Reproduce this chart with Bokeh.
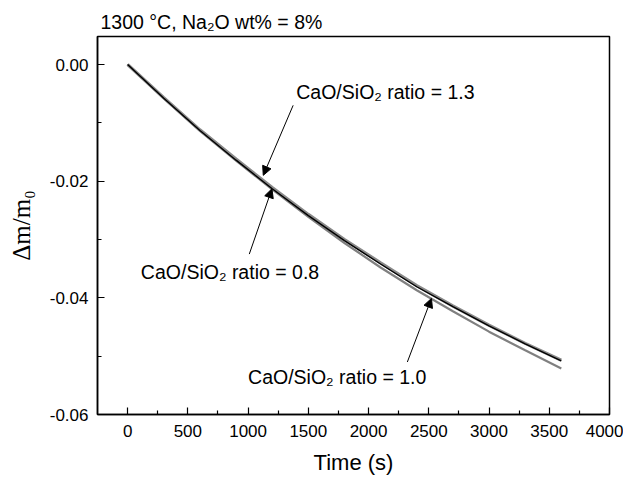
from bokeh.plotting import figure
from bokeh.models import Arrow, NormalHead, Label, PrintfTickFormatter, FixedTicker, Range1d
from bokeh.embed import file_html
from bokeh.resources import INLINE

# data
time_s = [0, 300, 600, 900, 1200, 1500, 1800, 2100, 2400, 2700, 3000, 3300, 3600]
ratio_13 = [0, -0.0057, -0.0112, -0.0162, -0.0211, -0.0257, -0.0300, -0.0340, -0.0379, -0.0414, -0.0447, -0.0478, -0.0507]
ratio_08 = [0, -0.0058, -0.0113, -0.0164, -0.0213, -0.0259, -0.0302, -0.0342, -0.0381, -0.0415, -0.0448, -0.0479, -0.0508]
ratio_10 = [0, -0.0058, -0.0114, -0.0165, -0.0214, -0.0261, -0.0306, -0.0348, -0.0387, -0.0423, -0.0458, -0.0490, -0.0521]

x_ticks = [0, 500, 1000, 1500, 2000, 2500, 3000, 3500, 4000]
y_ticks = [-0.06, -0.04, -0.02, 0.0]

labels = ["CaO/SiO\u2082 ratio = 1.3", "CaO/SiO\u2082 ratio = 0.8", "CaO/SiO\u2082 ratio = 1.0"]
label_pos = [(1400, -0.0047), (110, -0.0355), (1000, -0.0535)]
arrow_start = [(1374, -0.0070), (1010, -0.0325), (2322, -0.0510)]
arrow_end = [(1126, -0.0190), (1198, -0.0213), (2522, -0.0401)]

FONT = "Liberation Sans"

p = figure(width=623, height=478, output_backend="svg", toolbar_location=None,
           x_range=Range1d(-250, 4000), y_range=Range1d(-0.06, 0.0048),
           min_border_left=97, min_border_right=14, min_border_top=36, min_border_bottom=64)
p.background_fill_color = "white"
p.border_fill_color = "white"
p.outline_line_color = "black"
p.outline_line_width = 1.5
p.grid.visible = False

p.line(time_s, ratio_10, line_color="#808080", line_width=2.2)
p.line(time_s, ratio_13, line_color="#8a8a8a", line_width=3.2)
p.line(time_s, ratio_08, line_color="black", line_width=1.4)

for (xs, ys), (xe, ye) in zip(arrow_start, arrow_end):
    p.add_layout(Arrow(end=NormalHead(size=9, fill_color="black", line_color="black"),
                       x_start=xs, y_start=ys, x_end=xe, y_end=ye,
                       line_color="black", line_width=1))

for txt, (lx, ly) in zip(labels, label_pos):
    p.add_layout(Label(x=lx, y=ly, text=txt, text_font=FONT, text_font_size="19.5px",
                       text_color="black", text_baseline="middle", text_align="left"))

p.title.text = "1300 \u00b0C, Na\u2082O wt% = 8%"
p.title.text_font = FONT
p.title.text_font_size = "19.5px"
p.title.text_font_style = "normal"
p.title.text_color = "black"
p.title.align = "left"
p.title.offset = 3
p.title.standoff = 8

for ax in [p.xaxis[0], p.yaxis[0]]:
    ax.axis_line_color = "black"
    ax.axis_line_width = 1.5
    ax.major_tick_in = 7
    ax.major_tick_out = 0
    ax.minor_tick_in = 4
    ax.minor_tick_out = 0
    ax.major_tick_line_color = "black"
    ax.minor_tick_line_color = "black"
    ax.major_tick_line_width = 1.2
    ax.minor_tick_line_width = 1.2
    ax.major_label_text_font = FONT
    ax.major_label_text_font_size = "17px"
    ax.major_label_text_color = "black"
    ax.axis_label_text_color = "black"

p.xaxis[0].ticker = FixedTicker(ticks=x_ticks, minor_ticks=[250, 750, 1250, 1750, 2250, 2750, 3250, 3750])
p.yaxis[0].ticker = FixedTicker(ticks=y_ticks, minor_ticks=[-0.05, -0.03, -0.01])
p.yaxis[0].formatter = PrintfTickFormatter(format="%.2f")
p.xaxis[0].major_label_standoff = 10
p.yaxis[0].major_label_standoff = 9

p.xaxis[0].axis_label = "Time (s)"
p.xaxis[0].axis_label_text_font = FONT
p.xaxis[0].axis_label_text_font_size = "22px"
p.xaxis[0].axis_label_text_font_style = "normal"
p.xaxis[0].axis_label_standoff = 10

p.yaxis[0].axis_label = "\u0394m/m\u2080"
p.yaxis[0].axis_label_text_font = "Liberation Serif"
p.yaxis[0].axis_label_text_font_size = "25px"
p.yaxis[0].axis_label_text_font_style = "normal"
p.yaxis[0].axis_label_standoff = 12

open("out.html", "w").write(file_html(p, INLINE))
